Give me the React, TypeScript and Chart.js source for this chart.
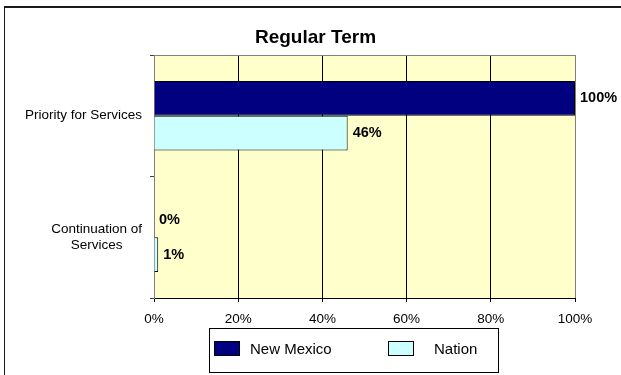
import React, { useEffect, useRef } from 'react';
import { Chart, registerables } from 'chart.js';

Chart.register(...registerables);

const chartTitle = 'Regular Term';
const categories: (string | string[])[] = ['Priority for Services', ['Continuation of', 'Services']];
const seriesNames = ['New Mexico', 'Nation'];
const newMexico = [100, 0];
const nation = [46, 1];
const xMin = 0;
const xMax = 100;
const xStep = 20;

const FONT = '"Liberation Sans", Arial, Helvetica, sans-serif';
const NAVY = '#000080';
const CYAN = '#CCFFFF';

const decoPlugin = {
  id: 'deco',
  beforeDraw(chart: any) {
    const { ctx, chartArea: a, width, height } = chart;
    ctx.save();
    ctx.fillStyle = '#ffffff';
    ctx.fillRect(0, 0, width, height);
    ctx.fillStyle = '#FFFFCC';
    ctx.fillRect(a.left, a.top, a.right - a.left, a.bottom - a.top);
    // outer chart border (left & top visible)
    ctx.fillStyle = '#1a1a1a';
    ctx.fillRect(4, 6, 1, height);
    ctx.fillRect(4, 6, width, 2);
    ctx.restore();
  },
  beforeDatasetsDraw(chart: any) {
    const { ctx, chartArea: a } = chart;
    ctx.save();
    ctx.strokeStyle = '#808080';
    ctx.lineWidth = 1;
    ctx.beginPath();
    ctx.moveTo(a.left, Math.round(a.top) + 0.5);
    ctx.lineTo(a.right, Math.round(a.top) + 0.5);
    ctx.stroke();
    ctx.restore();
  },
  afterDatasetsDraw(chart: any) {
    const { ctx } = chart;
    ctx.save();
    ctx.font = `bold 14.5px ${FONT}`;
    ctx.fillStyle = '#000';
    ctx.textAlign = 'left';
    ctx.textBaseline = 'middle';
    chart.data.datasets.forEach((ds: any, di: number) => {
      const meta = chart.getDatasetMeta(di);
      meta.data.forEach((el: any, i: number) => {
        ctx.fillText(`${ds.data[i]}%`, el.x + 5, el.y);
      });
    });
    ctx.restore();
  },
  afterDraw(chart: any) {
    const { ctx } = chart;
    const yScale = chart.scales.y;
    // category labels: block right-aligned, lines centred
    ctx.save();
    ctx.font = `13.5px ${FONT}`;
    ctx.fillStyle = '#000';
    ctx.textAlign = 'center';
    ctx.textBaseline = 'middle';
    const lineH = 16.5;
    const rightEdge = yScale.right - 12;
    (chart.data.labels as any[]).forEach((lab: any, i: number) => {
      const lines: string[] = Array.isArray(lab) ? lab : [lab];
      const blockW = Math.max(...lines.map((l) => ctx.measureText(l).width));
      const cx = rightEdge - blockW / 2;
      const yc = yScale.getPixelForValue(i);
      lines.forEach((l, j) => {
        ctx.fillText(l, cx, yc + (j - (lines.length - 1) / 2) * lineH);
      });
    });
    ctx.restore();

    // legend
    ctx.save();
    ctx.strokeStyle = '#000';
    ctx.lineWidth = 1;
    ctx.strokeRect(209.5, 328.5, 289, 44);
    const items = chart.data.datasets.map((ds: any) => ({ label: ds.label, color: ds.backgroundColor }));
    const sx = [214, 388];
    const tx = [250, 434];
    ctx.font = `15px ${FONT}`;
    ctx.textAlign = 'left';
    ctx.textBaseline = 'middle';
    items.forEach((it: any, i: number) => {
      ctx.fillStyle = it.color;
      ctx.fillRect(sx[i], 341, 26, 15);
      ctx.strokeRect(sx[i] + 0.5, 341.5, 25, 14);
      ctx.fillStyle = '#000';
      ctx.fillText(it.label, tx[i], 350);
    });
    ctx.restore();
  },
};

export default function App() {
  const canvasRef = useRef<HTMLCanvasElement | null>(null);

  useEffect(() => {
    if (!canvasRef.current) return;
    const chart = new Chart(canvasRef.current, {
      type: 'bar',
      data: {
        labels: categories as any,
        datasets: [
          {
            label: seriesNames[0],
            data: newMexico,
            backgroundColor: NAVY,
            borderColor: '#000',
            borderWidth: 1,
            categoryPercentage: 0.57,
            barPercentage: 1,
          },
          {
            label: seriesNames[1],
            data: nation,
            backgroundColor: CYAN,
            borderColor: '#000',
            borderWidth: 1,
            categoryPercentage: 0.57,
            barPercentage: 1,
          },
        ],
      },
      options: {
        indexAxis: 'y',
        responsive: false,
        animation: false,
        devicePixelRatio: 1,
        layout: { padding: { left: 10, right: 0, top: 0, bottom: 50 } },
        plugins: {
          legend: { display: false },
          tooltip: { enabled: false },
          title: {
            display: true,
            text: chartTitle,
            color: '#000',
            font: { family: FONT, size: 19, weight: 'bold' },
            padding: { top: 26, bottom: 6.2 },
          },
        },
        scales: {
          x: {
            min: xMin,
            max: xMax,
            ticks: {
              stepSize: xStep,
              callback: (v: any) => `${v}%`,
              color: '#000',
              font: { family: FONT, size: 13.5 },
              padding: 9,
              maxRotation: 0,
              autoSkip: false,
            },
            grid: {
              color: (c: any) => (c.tick && (c.tick.value === xMin || c.tick.value === xMax) ? '#808080' : '#000'),
              tickColor: '#000',
              tickLength: 4,
              lineWidth: 1,
            },
            border: { color: '#000' },
            afterFit: (s: any) => {
              s.height = 27;
              s.paddingRight = 46;
            },
          },
          y: {
            ticks: { display: false },
            grid: { drawOnChartArea: false, tickLength: 4, tickColor: '#404040', offset: true },
            border: { color: '#808080' },
            afterFit: (s: any) => {
              s.width = 144;
            },
          },
        },
      } as any,
      plugins: [decoPlugin],
    });
    return () => chart.destroy();
  }, []);

  return (
    <div style={{ position: 'absolute', left: 0, top: 0, width: 621, height: 375 }}>
      <canvas ref={canvasRef} width={621} height={375} style={{ display: 'block' }} />
    </div>
  );
}
